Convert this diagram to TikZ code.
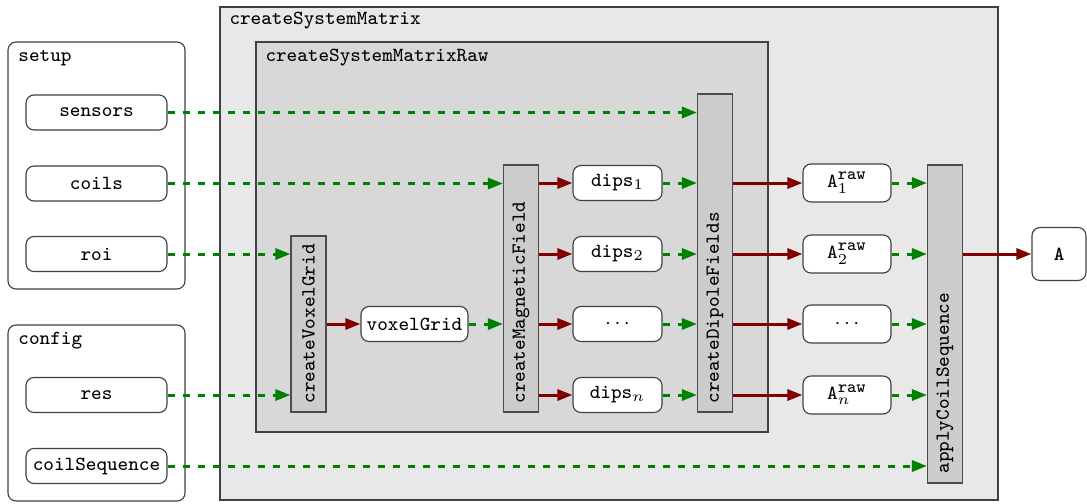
\documentclass[tikz,border=0pt]{standalone}
\usetikzlibrary{arrows.meta,calc}
\definecolor{flowgreen}{RGB}{0,128,0}
\definecolor{flowred}{RGB}{128,0,0}
\definecolor{outerfill}{RGB}{232,232,232}
\definecolor{innerfill}{RGB}{216,216,216}
\definecolor{procfill}{RGB}{204,204,204}
\newcommand{\rawsup}{\hbox{\fontsize{7}{8}\selectfont\ttfamily raw}}
\begin{document}
\begin{tikzpicture}[x=0.4pt,y=-0.4pt,font=\ttfamily\footnotesize,
  container/.style={draw=black!75,line width=0.45pt},
  group/.style={draw=black!75,line width=0.45pt,rounded corners=3.2pt,fill=white},
  data/.style={draw=black!75,line width=0.45pt,rounded corners=3.2pt,fill=white,minimum height=14pt,inner sep=1.5pt},
  proc/.style={draw=black!70,line width=0.45pt,fill=procfill,minimum width=14pt,inner sep=0pt},
  proclabel/.style={rotate=90,anchor=west,inner sep=0pt},
  title/.style={anchor=west,inner sep=0pt},
  dataflow/.style={draw=flowgreen,line width=1.2pt,dashed,-{Triangle[length=6pt,width=4.4pt]}},
  resflow/.style={draw=flowred,line width=1.2pt,-{Triangle[length=6pt,width=4.4pt]}}]
\useasboundingbox (0,0) rectangle (1087,503);
% containers
\draw[container,fill=outerfill] (220,7) rectangle (998,500);
\node[title] (tsm) at (229,21) {createSystemMatrix};
\draw[container,fill=innerfill] (256,42) rectangle (768,432);
\node[title] (tsmr) at (265,58) {createSystemMatrixRaw};
\draw[group] (8,42) rectangle (185,289);
\node[title] (tsetup) at (18,58) {setup};
\draw[group] (8,325) rectangle (185,501);
\node[title] (tconfig) at (18,341) {config};
% inputs
\node[data,minimum width=56.4pt] (sensors) at (96.5,112.5) {sensors};
\node[data,minimum width=56.4pt] (coils) at (96.5,183.5) {coils};
\node[data,minimum width=56.4pt] (roi) at (96.5,254) {roi};
\node[data,minimum width=56.4pt] (res) at (96.5,395) {res};
\node[data,minimum width=56.4pt] (cseq) at (96.5,466) {coilSequence};
% processes
\node[proc,minimum height=70.4pt] (cvg) at (308.5,324) {};
\node[proclabel] (lcvg) at (308.5,404) {createVoxelGrid};
\node[proc,minimum height=98.8pt] (cmf) at (521,288.5) {};
\node[proclabel] (lcmf) at (521,404) {createMagneticField};
\node[proc,minimum height=127.2pt] (cdf) at (715,253) {};
\node[proclabel] (lcdf) at (715,404) {createDipoleFields};
\node[proc,minimum height=127.2pt] (acs) at (945,324) {};
\node[proclabel] (lacs) at (945,474) {applyCoilSequence};
% intermediate data
\node[data,minimum width=42.8pt] (vg) at (414.5,324) {voxelGrid};
\node[data,minimum width=35.6pt] (d1) at (617.5,183) {dips$_1$};
\node[data,minimum width=35.6pt] (d2) at (617.5,254) {dips$_2$};
\node[data,minimum width=35.6pt] (d3) at (617.5,324) {$\cdots$};
\node[data,minimum width=35.6pt] (dn) at (617.5,395) {dips$_n$};
\node[data,minimum width=35.2pt,minimum height=15.2pt] (a1) at (847,183) {$\mathtt{A}^{\rawsup}_{1}$};
\node[data,minimum width=35.2pt,minimum height=15.2pt] (a2) at (847,254) {$\mathtt{A}^{\rawsup}_{2}$};
\node[data,minimum width=35.2pt,minimum height=15.2pt] (a3) at (847,324) {$\cdots$};
\node[data,minimum width=35.2pt,minimum height=15.2pt] (an) at (847,395) {$\mathtt{A}^{\rawsup}_{n}$};
\node[data,minimum width=21.6pt,minimum height=21.2pt] (A) at (1059,254) {\textbf{A}};
% input flows
\draw[dataflow] (sensors.east) -- (sensors.east -| cdf.west);
\draw[dataflow] (coils.east) -- (coils.east -| cmf.west);
\draw[dataflow] (roi.east) -- (roi.east -| cvg.west);
\draw[dataflow] (res.east) -- (res.east -| cvg.west);
\draw[dataflow] (cseq.east) -- (cseq.east -| acs.west);
% pipeline
\draw[resflow] (vg.west -| cvg.east) -- (vg.west);
\draw[dataflow] (vg.east) -- (vg.east -| cmf.west);
\foreach \d/\a in {d1/a1,d2/a2,d3/a3,dn/an}{
  \draw[resflow] (\d.west -| cmf.east) -- (\d.west);
  \draw[dataflow] (\d.east) -- (\d.east -| cdf.west);
  \draw[resflow] (\a.west -| cdf.east) -- (\a.west);
  \draw[dataflow] (\a.east) -- (\a.east -| acs.west);
}
\draw[resflow] (A.west -| acs.east) -- (A.west);
\end{tikzpicture}
\end{document}
